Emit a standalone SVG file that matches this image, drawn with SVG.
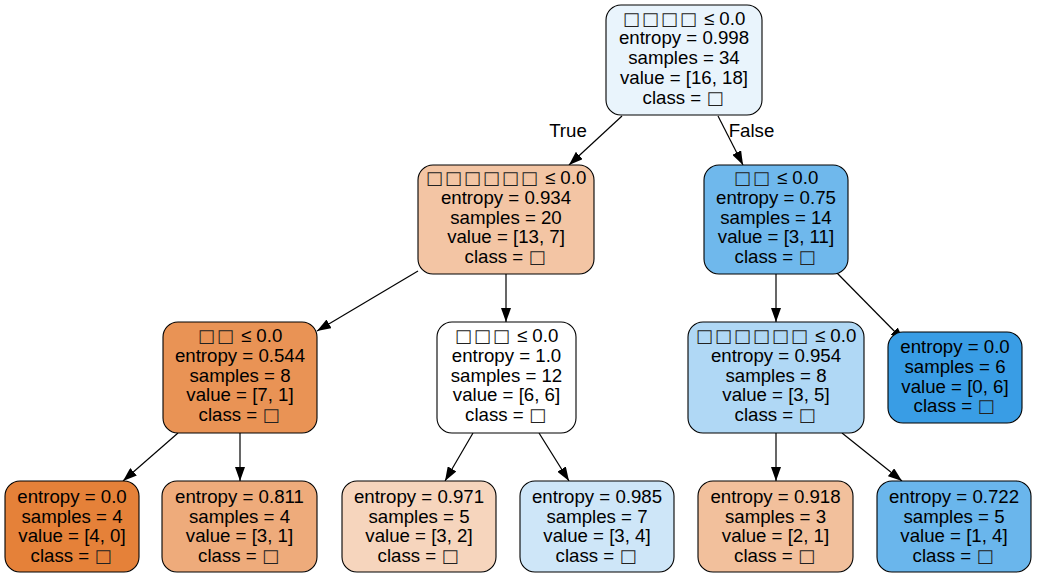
<svg xmlns="http://www.w3.org/2000/svg" width="1037" height="577" viewBox="0 0 1037 577">
<style>
  .box { stroke: #000; stroke-width: 1.1; }
  text { font-family: "Liberation Sans", Arial, sans-serif; font-size: 18.67px; fill: #000; text-anchor: middle; }
  .t { font-family: "DejaVu Sans", sans-serif; font-size: 18px; letter-spacing: 2px; fill: #222; }
  .edge { stroke: #000; stroke-width: 1.2; fill: none; marker-end: url(#arr); }
</style>
<defs>
  <marker id="arr" markerUnits="userSpaceOnUse" markerWidth="14" markerHeight="10" refX="14" refY="5" orient="auto">
    <path d="M0,0 L14,5 L0,10 z" fill="#000"/>
  </marker>
</defs>
<rect width="1037" height="577" fill="#fff"/>
<g id="connectors">
  <line class="edge" x1="622" y1="116" x2="569" y2="165"/>
  <line class="edge" x1="718" y1="116" x2="743" y2="165"/>
  <line class="edge" x1="418" y1="271" x2="317" y2="331"/>
  <line class="edge" x1="506" y1="274" x2="506" y2="322"/>
  <line class="edge" x1="776" y1="274" x2="776" y2="322"/>
  <line class="edge" x1="836" y1="272" x2="904" y2="341"/>
  <line class="edge" x1="178" y1="433" x2="123" y2="481"/>
  <line class="edge" x1="240" y1="433" x2="240" y2="481"/>
  <line class="edge" x1="473" y1="433" x2="445" y2="481"/>
  <line class="edge" x1="539" y1="433" x2="569" y2="481"/>
  <line class="edge" x1="776" y1="433" x2="776" y2="481"/>
  <line class="edge" x1="842" y1="433" x2="902" y2="481"/>
  <text x="568" y="136.5">True</text>
  <text x="751.5" y="136.5">False</text>
</g>
<g id="node0">
  <rect class="box" x="606" y="5" width="156" height="110" rx="15" fill="#e9f4fc"/>
  <text x="684" y="24.5"><tspan class="t">□□□□</tspan> ≤ 0.0</text>
  <text x="684" y="44.3">entropy = 0.998</text>
  <text x="684" y="64.1">samples = 34</text>
  <text x="684" y="83.9">value = [16, 18]</text>
  <text x="684" y="103.7">class = <tspan class="t">□</tspan></text>
</g>
<g id="node1">
  <rect class="box" x="418" y="165" width="176" height="109" rx="15" fill="#f3c5a4"/>
  <text x="506" y="184"><tspan class="t">□□□□□□</tspan> ≤ 0.0</text>
  <text x="506" y="203.8">entropy = 0.934</text>
  <text x="506" y="223.6">samples = 20</text>
  <text x="506" y="243.4">value = [13, 7]</text>
  <text x="506" y="263.2">class = <tspan class="t">□</tspan></text>
</g>
<g id="node2">
  <rect class="box" x="704" y="165" width="144" height="109" rx="15" fill="#6fb8ec"/>
  <text x="776" y="184"><tspan class="t">□□</tspan> ≤ 0.0</text>
  <text x="776" y="203.8">entropy = 0.75</text>
  <text x="776" y="223.6">samples = 14</text>
  <text x="776" y="243.4">value = [3, 11]</text>
  <text x="776" y="263.2">class = <tspan class="t">□</tspan></text>
</g>
<g id="node3">
  <rect class="box" x="163" y="322" width="154" height="111" rx="15" fill="#e99355"/>
  <text x="240" y="342"><tspan class="t">□□</tspan> ≤ 0.0</text>
  <text x="240" y="361.8">entropy = 0.544</text>
  <text x="240" y="381.6">samples = 8</text>
  <text x="240" y="401.4">value = [7, 1]</text>
  <text x="240" y="421.2">class = <tspan class="t">□</tspan></text>
</g>
<g id="node4">
  <rect class="box" x="437" y="322" width="139" height="111" rx="15" fill="#ffffff"/>
  <text x="506.5" y="342"><tspan class="t">□□□</tspan> ≤ 0.0</text>
  <text x="506.5" y="361.8">entropy = 1.0</text>
  <text x="506.5" y="381.6">samples = 12</text>
  <text x="506.5" y="401.4">value = [6, 6]</text>
  <text x="506.5" y="421.2">class = <tspan class="t">□</tspan></text>
</g>
<g id="node5">
  <rect class="box" x="688" y="322" width="176" height="111" rx="15" fill="#b0d8f5"/>
  <text x="776" y="342"><tspan class="t">□□□□□□</tspan> ≤ 0.0</text>
  <text x="776" y="361.8">entropy = 0.954</text>
  <text x="776" y="381.6">samples = 8</text>
  <text x="776" y="401.4">value = [3, 5]</text>
  <text x="776" y="421.2">class = <tspan class="t">□</tspan></text>
</g>
<g id="node6">
  <rect class="box" x="888" y="332" width="134" height="91" rx="15" fill="#399de5"/>
  <text x="955" y="353">entropy = 0.0</text>
  <text x="955" y="372.8">samples = 6</text>
  <text x="955" y="392.6">value = [0, 6]</text>
  <text x="955" y="412.4">class = <tspan class="t">□</tspan></text>
</g>
<g id="node7">
  <rect class="box" x="5" y="481" width="134" height="91" rx="15" fill="#e58139"/>
  <text x="72" y="503">entropy = 0.0</text>
  <text x="72" y="522.5">samples = 4</text>
  <text x="72" y="542">value = [4, 0]</text>
  <text x="72" y="561.5">class = <tspan class="t">□</tspan></text>
</g>
<g id="node8">
  <rect class="box" x="162" y="481" width="155" height="91" rx="15" fill="#eeab7b"/>
  <text x="239.5" y="503">entropy = 0.811</text>
  <text x="239.5" y="522.5">samples = 4</text>
  <text x="239.5" y="542">value = [3, 1]</text>
  <text x="239.5" y="561.5">class = <tspan class="t">□</tspan></text>
</g>
<g id="node9">
  <rect class="box" x="342" y="481" width="154" height="91" rx="15" fill="#f6d5bd"/>
  <text x="419" y="503">entropy = 0.971</text>
  <text x="419" y="522.5">samples = 5</text>
  <text x="419" y="542">value = [3, 2]</text>
  <text x="419" y="561.5">class = <tspan class="t">□</tspan></text>
</g>
<g id="node10">
  <rect class="box" x="520" y="481" width="154" height="91" rx="15" fill="#cee6f8"/>
  <text x="597" y="503">entropy = 0.985</text>
  <text x="597" y="522.5">samples = 7</text>
  <text x="597" y="542">value = [3, 4]</text>
  <text x="597" y="561.5">class = <tspan class="t">□</tspan></text>
</g>
<g id="node11">
  <rect class="box" x="698" y="481" width="155" height="91" rx="15" fill="#f2c09c"/>
  <text x="775.5" y="503">entropy = 0.918</text>
  <text x="775.5" y="522.5">samples = 3</text>
  <text x="775.5" y="542">value = [2, 1]</text>
  <text x="775.5" y="561.5">class = <tspan class="t">□</tspan></text>
</g>
<g id="node12">
  <rect class="box" x="877" y="481" width="154" height="91" rx="15" fill="#6ab6ec"/>
  <text x="954" y="503">entropy = 0.722</text>
  <text x="954" y="522.5">samples = 5</text>
  <text x="954" y="542">value = [1, 4]</text>
  <text x="954" y="561.5">class = <tspan class="t">□</tspan></text>
</g>
</svg>
